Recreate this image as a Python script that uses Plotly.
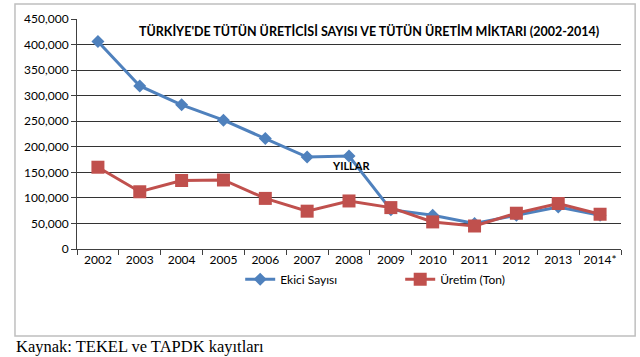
import plotly.graph_objects as go

years = ["2002", "2003", "2004", "2005", "2006", "2007", "2008", "2009", "2010", "2011", "2012", "2013", "2014*"]
ekici = [406000, 319000, 282000, 252000, 216000, 180000, 182000, 77000, 66000, 50000, 66000, 82000, 66000]
uretim = [160000, 112000, 134000, 135000, 99000, 74000, 94000, 81000, 53000, 45000, 70000, 89000, 68000]

title_text = "TÜRKİYE'DE TÜTÜN ÜRETİCİSİ SAYISI VE TÜTÜN ÜRETİM MİKTARI (2002-2014)"
xlabel_text = "YILLAR"
source_text = "Kaynak: TEKEL ve TAPDK kayıtları"

BLUE = "#4F81BD"
RED = "#C0504D"
FONT = "Lato"

fig = go.Figure()
fig.add_trace(go.Scatter(
    x=years, y=ekici, name="Ekici Sayısı", mode="lines+markers",
    line=dict(color=BLUE, width=3),
    marker=dict(symbol="diamond", size=10, color=BLUE),
))
fig.add_trace(go.Scatter(
    x=years, y=uretim, name="Üretim (Ton)", mode="lines+markers",
    line=dict(color=RED, width=3),
    marker=dict(symbol="square", size=13, color=RED),
))

fig.update_layout(
    width=640, height=357,
    margin=dict(l=77, r=19, t=19, b=108, autoexpand=False),
    paper_bgcolor="white", plot_bgcolor="white",
    font=dict(family=FONT, size=12, color="#000000"),
    showlegend=True,
    legend=dict(
        orientation="h", x=0.30, xanchor="left", y=-0.068, yanchor="top",
        font=dict(family=FONT, size=12, color="#000000"),
        bgcolor="rgba(0,0,0,0)", itemwidth=30,
        entrywidth=115, entrywidthmode="pixels",
    ),
    xaxis=dict(
        type="category", showgrid=False, showline=True, linecolor="#404040", linewidth=1,
        ticks="outside", tickson="boundaries", ticklen=5, tickcolor="#404040",
        tickangle=0, automargin=False,
        tickfont=dict(family=FONT, size=12, color="#000000"),
        range=[-0.5, 12.5], fixedrange=True,
    ),
    yaxis=dict(
        range=[0, 450000], dtick=50000, tickformat=",",
        showgrid=True, gridcolor="#333333", gridwidth=1.2,
        showline=True, linecolor="#404040", linewidth=1,
        ticks="outside", ticklen=5, tickcolor="#404040", automargin=False,
        tickfont=dict(family=FONT, size=12, color="#000000"),
        zeroline=False,
    ),
)

fig.add_annotation(
    text="<b>" + title_text + "</b>", xref="paper", yref="paper",
    x=0.537, y=0.948, xanchor="center", yanchor="middle", showarrow=False,
    font=dict(family=FONT, size=12.5, color="#000000"),
)
fig.add_annotation(
    text="<b>" + xlabel_text + "</b>", xref="paper", yref="paper",
    x=0.504, y=0.361, xanchor="center", yanchor="middle", showarrow=False,
    font=dict(family=FONT, size=11, color="#000000"),
)
fig.add_annotation(
    text=source_text, xref="paper", yref="paper",
    x=-0.116, y=-0.426, xanchor="left", yanchor="middle", showarrow=False,
    font=dict(family="Liberation Serif", size=16.5, color="#000000"),
)
fig.add_shape(
    type="rect", xref="paper", yref="paper",
    x0=-0.114, x1=1.026, y0=-0.378, y1=1.065,
    line=dict(color="#BFBFBF", width=1.5), fillcolor="rgba(0,0,0,0)", layer="below",
)

fig.write_html("out.html", config={"displayModeBar": False},
               post_script="document.body.style.margin='0';")
